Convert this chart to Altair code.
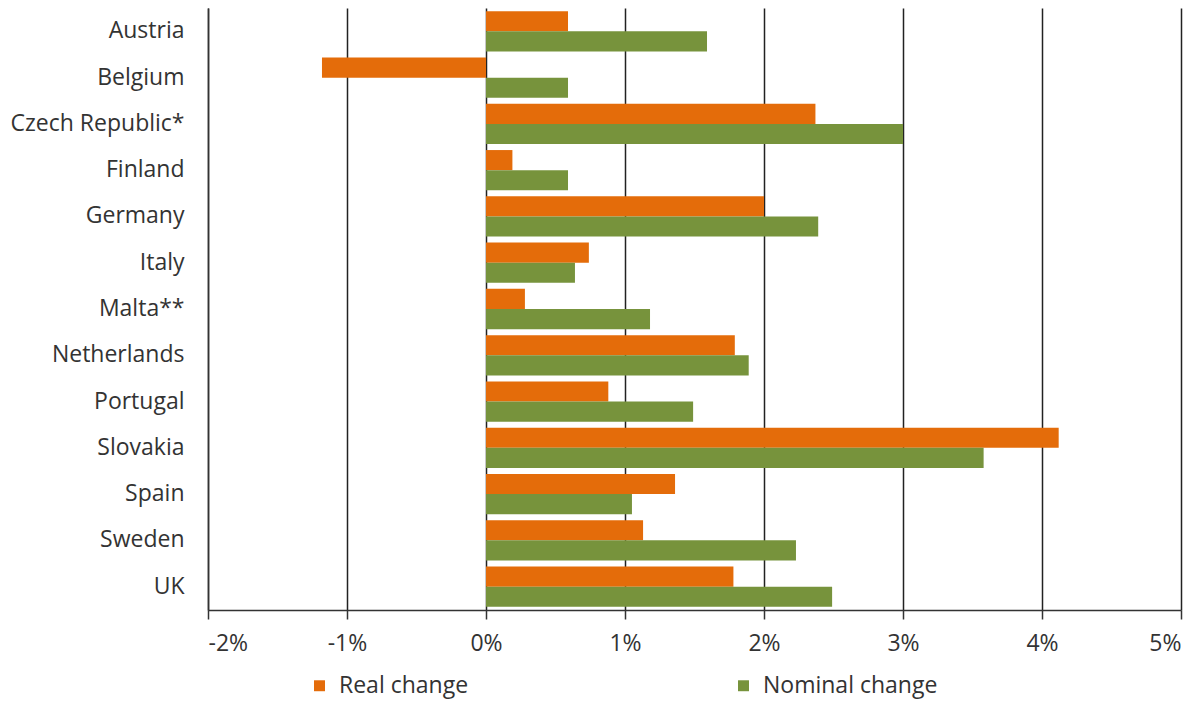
import altair as alt
import pandas as pd

countries = ["Austria", "Belgium", "Czech Republic*", "Finland", "Germany", "Italy",
             "Malta**", "Netherlands", "Portugal", "Slovakia", "Spain", "Sweden", "UK"]
real_change = [0.59, -1.18, 2.37, 0.19, 2.0, 0.74, 0.28, 1.79, 0.88, 4.12, 1.36, 1.13, 1.78]
nominal_change = [1.59, 0.59, 3.0, 0.59, 2.39, 0.64, 1.18, 1.89, 1.49, 3.58, 1.05, 2.23, 2.49]
series = ["Real change", "Nominal change"]
colors = ["#E46C0A", "#77933C"]
x_ticks = [-2, -1, 0, 1, 2, 3, 4, 5]

rows = []
for c, r, n in zip(countries, real_change, nominal_change):
    rows.append({"country": c, "series": series[0], "value": r / 100})
    rows.append({"country": c, "series": series[1], "value": n / 100})
df = pd.DataFrame(rows)

FONT = "Open Sans"
FS = 23

chart = alt.Chart(df).mark_bar().encode(
    y=alt.Y("country:N", sort=countries, title=None,
            scale=alt.Scale(paddingInner=0.13, paddingOuter=0.07),
            axis=alt.Axis(ticks=False, labelPadding=24, grid=False, domain=True,
                          domainColor="#333", domainWidth=1.5)),
    yOffset=alt.YOffset("series:N", sort=series, scale=alt.Scale(padding=0, paddingInner=0)),
    x=alt.X("value:Q", title=None,
            scale=alt.Scale(domain=[-0.02, 0.05], nice=False),
            axis=alt.Axis(values=[v / 100 for v in x_ticks],
                          labelExpr="replace(format(datum.value, '.0%'), '\u2212', '-')",
                          grid=True, gridColor="#222", gridWidth=1.5,
                          domainColor="#333", domainWidth=1.5,
                          tickColor="#333", tickWidth=1.5, tickSize=9,
                          labelPadding=13)),
    color=alt.Color("series:N", sort=series,
                    scale=alt.Scale(domain=series, range=colors),
                    legend=alt.Legend(title=None, orient="none", direction="horizontal",
                                      legendX=100, legendY=666, symbolType="square",
                                      symbolSize=120, symbolStrokeWidth=0,
                                      columnPadding=263, labelFontSize=FS, labelLimit=400,
                                      labelFont=FONT, labelColor="#333", labelOffset=8)),
).properties(
    width=973, height=602,
    autosize=alt.AutoSizeParams(type="none"),
    padding={"left": 208, "top": 8, "right": 23, "bottom": 94},
).configure_view(stroke=None).configure_axis(
    labelFont=FONT, labelFontSize=FS, labelColor="#333"
)

chart.save("out.html", embed_options={"renderer": "svg", "actions": False})
